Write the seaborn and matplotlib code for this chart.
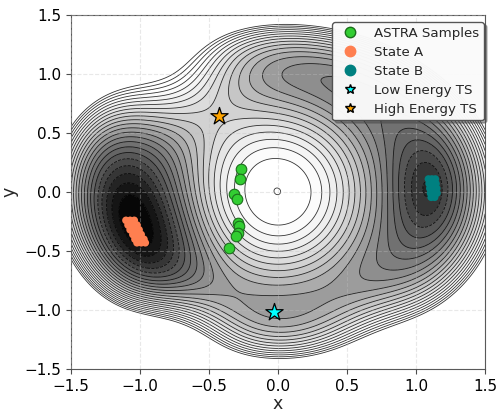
import numpy as np
import matplotlib
matplotlib.use("Agg")
import matplotlib.pyplot as plt
import seaborn as sns
from matplotlib.lines import Line2D

# ---------------- data ----------------
astra_x = [-0.264, -0.271, -0.316, -0.297, -0.288, -0.283, -0.290, -0.302, -0.353]
astra_y = [0.196, 0.108, -0.016, -0.061, -0.262, -0.284, -0.351, -0.374, -0.474]

stateA_x = [-1.100, -1.070, -1.040, -1.085, -1.055, -1.020, -1.070, -1.035, -1.005,
            -1.050, -1.020, -0.990, -1.035, -1.000, -0.970, -1.020, -0.990, -0.960]
stateA_y = [-0.240, -0.240, -0.240, -0.280, -0.280, -0.280, -0.320, -0.320, -0.320,
            -0.360, -0.360, -0.360, -0.400, -0.400, -0.400, -0.430, -0.430, -0.430]

stateB_x = [1.090, 1.115, 1.140, 1.095, 1.120, 1.145, 1.100, 1.125, 1.150,
            1.105, 1.130, 1.152, 1.110, 1.135]
stateB_y = [0.110, 0.110, 0.110, 0.070, 0.070, 0.070, 0.030, 0.030, 0.030,
            -0.010, -0.010, -0.010, -0.045, -0.045]

low_ts_x, low_ts_y = [-0.027], [-1.018]
high_ts_x, high_ts_y = [-0.425], [0.640]

tick_values = [-1.5, -1.0, -0.5, 0.0, 0.5, 1.0, 1.5]
legend_labels = ["ASTRA Samples", "State A", "State B", "Low Energy TS", "High Energy TS"]

# potential surface terms: (amplitude, x0, y0, sigma_x, sigma_y, angle_deg, power)
gauss_terms = [
    (0.7762, 0.00, 0.00, 0.48, 0.56, 0, 1.3),     # central barrier
    (-0.40, -1.05, -0.30, 0.28, 0.55, 18, 1.0),   # basin A
    (-0.25, 1.12, 0.03, 0.20, 0.35, 0, 1.0),      # basin B
    (0.55, -0.80, 1.00, 0.35, 0.35, 0, 1.0),      # upper-left ridge
    (0.60, -0.80, -1.25, 0.30, 0.30, 0, 1.0),     # lower-left ridge
    (0.25, 0.75, -1.25, 0.30, 0.30, 0, 1.0),      # lower-right ridge
    (-0.05, 0.30, 1.05, 0.55, 0.35, 0, 1.0),      # upper channel
]
conf_strength, conf_ax, conf_ay = 0.845, 1.6, 1.41
n_levels = 24


def potential(x, y):
    v = conf_strength * ((x / conf_ax) ** 2 + (y / conf_ay) ** 2) ** 3
    for a, x0, y0, sx, sy, ang, pw in gauss_terms:
        t = np.deg2rad(ang)
        dx, dy = x - x0, y - y0
        u = dx * np.cos(t) + dy * np.sin(t)
        w = -dx * np.sin(t) + dy * np.cos(t)
        q = u ** 2 / (2 * sx ** 2) + w ** 2 / (2 * sy ** 2)
        v = v + a * np.exp(-q ** pw)
    return v


# ---------------- plot ----------------
sns.set_style("ticks")
plt.rcParams["font.family"] = ["DejaVu Sans"]

fig = plt.figure(figsize=(4.98, 4.12), dpi=100)
ax = fig.add_axes([0.142, 0.104, 0.832, 0.860])

gx = np.linspace(-1.5, 1.5, 601)
gy = np.linspace(-1.5, 1.5, 601)
GX, GY = np.meshgrid(gx, gy)
V = potential(GX, GY)
vmin = V.min()
vmax = potential(0.0, -1.41)
levels = np.linspace(vmin, vmax, n_levels)

ax.contourf(GX, GY, V, levels=levels, cmap="Greys_r", vmin=vmin,
            vmax=vmin + 0.88 * (vmax - vmin), zorder=1)
ax.contour(GX, GY, V, levels=levels, colors="k", linewidths=0.6, alpha=0.8, zorder=2)

sns.scatterplot(x=stateA_x, y=stateA_y, ax=ax, color="#FF7F50", s=30, edgecolor="none",
                legend=False, zorder=4)
sns.scatterplot(x=stateB_x, y=stateB_y, ax=ax, color="#008080", s=30, edgecolor="none",
                legend=False, zorder=4)
sns.scatterplot(x=astra_x, y=astra_y, ax=ax, color="#32CD32", s=58, edgecolor="#1B6E1B",
                linewidth=0.8, legend=False, zorder=5)
sns.scatterplot(x=low_ts_x, y=low_ts_y, ax=ax, color="#00FFFF", marker="*", s=170,
                edgecolor="k", linewidth=0.9, legend=False, zorder=6)
sns.scatterplot(x=high_ts_x, y=high_ts_y, ax=ax, color="#FFA500", marker="*", s=170,
                edgecolor="k", linewidth=0.9, legend=False, zorder=6)

ax.set_xlim(-1.5, 1.5)
ax.set_ylim(-1.5, 1.5)
ax.set_xticks(tick_values)
ax.set_yticks(tick_values)
ax.tick_params(labelsize=11, colors="0.3", labelcolor="k")
for sp in ax.spines.values():
    sp.set_color("0.35")
ax.set_axisbelow(False)
ax.grid(True, ls="--", color="0.75", alpha=0.35, lw=0.8)
ax.set_xlabel("x", fontsize=12.5, labelpad=1)
ax.set_ylabel("y", fontsize=12.5)

handles = [
    Line2D([], [], ls="", marker="o", markersize=7.5, markerfacecolor="#32CD32", markeredgecolor="#1B6E1B"),
    Line2D([], [], ls="", marker="o", markersize=7.5, markerfacecolor="#FF7F50", markeredgecolor="#FF7F50"),
    Line2D([], [], ls="", marker="o", markersize=7.5, markerfacecolor="#008080", markeredgecolor="#008080"),
    Line2D([], [], ls="", marker="*", markersize=7, markerfacecolor="#00FFFF", markeredgecolor="k"),
    Line2D([], [], ls="", marker="*", markersize=7, markerfacecolor="#FFA500", markeredgecolor="k"),
]
ax.legend(handles, legend_labels, loc="upper right", bbox_to_anchor=(0.9976, 0.980),
          borderaxespad=0.0, fontsize=9.6, labelspacing=0.45, borderpad=0.35,
          shadow=True, framealpha=0.95, edgecolor="0.3")

fig.savefig("out.png", dpi=100)
